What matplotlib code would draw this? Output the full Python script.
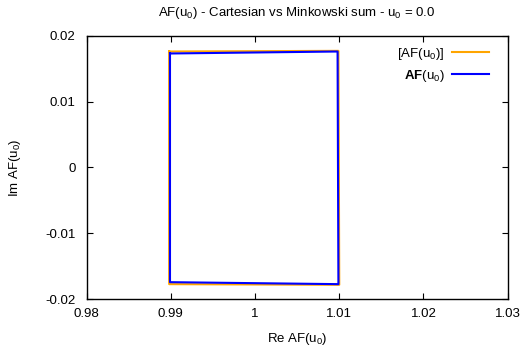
import matplotlib
matplotlib.use("Agg")
import matplotlib.pyplot as plt

plt.rcParams['font.family'] = ['Liberation Sans', 'DejaVu Sans']
plt.rcParams['mathtext.fontset'] = 'custom'
plt.rcParams['mathtext.rm'] = 'Liberation Sans'
plt.rcParams['mathtext.it'] = 'Liberation Sans'
plt.rcParams['mathtext.bf'] = 'Liberation Sans:bold'

# Data
cart_re = [0.9898, 1.0099, 1.0100, 0.9898, 0.9898]
cart_im = [0.0176, 0.0177, -0.0178, -0.0177, 0.0176]
mink_re = [0.9899, 1.0098, 1.0099, 0.9899, 0.9899]
mink_im = [0.0173, 0.0176, -0.0177, -0.0174, 0.0173]

xticks = [0.98, 0.99, 1.00, 1.01, 1.02, 1.03]
xticklabels = ["0.98", "0.99", "1", "1.01", "1.02", "1.03"]
yticks = [-0.02, -0.01, 0.0, 0.01, 0.02]
yticklabels = ["-0.02", "-0.01", "0", "0.01", "0.02"]

title = r"AF(u$_0$) - Cartesian vs Minkowski sum - u$_0$ = 0.0"
xlabel = r"Re AF(u$_0$)"
ylabel = r"Im AF(u$_0$)"
label_cart = r"[AF(u$_0$)]"
label_mink = r"$\mathbf{AF}$(u$_0$)"

fig = plt.figure(figsize=(5.25, 3.52), dpi=100)
ax = fig.add_axes([0.165, 0.1497, 0.802, 0.7489])

ax.plot(cart_re, cart_im, color='#FFA500', lw=1.5, label=label_cart)
ax.plot(mink_re, mink_im, color='#0000FF', lw=1.5, label=label_mink)

ax.set_xlim(0.98, 1.03)
ax.set_ylim(-0.02, 0.02)
ax.set_xticks(xticks)
ax.set_xticklabels(xticklabels)
ax.set_yticks(yticks)
ax.set_yticklabels(yticklabels)
ax.tick_params(direction='in', length=4.5, width=0.8, top=True, right=True,
               labelsize=9.5, colors='black', pad=6)
ax.tick_params(axis='y', pad=8)
for s in ax.spines.values():
    s.set_linewidth(1.0)
    s.set_color('black')

ax.set_title(title, fontsize=9.5, pad=14)
ax.set_xlabel(xlabel, fontsize=9.5, labelpad=8)
ax.set_ylabel(ylabel, fontsize=9.5, labelpad=16)

leg = ax.legend(loc='upper right', bbox_to_anchor=(0.98, 1.0), frameon=False,
                markerfirst=False, fontsize=9.5, handlelength=2.8,
                labelspacing=0.45, handletextpad=0.6, borderaxespad=0.35)
for t in leg.get_texts():
    t.set_ha('right')

fig.savefig("out.png", dpi=100)
